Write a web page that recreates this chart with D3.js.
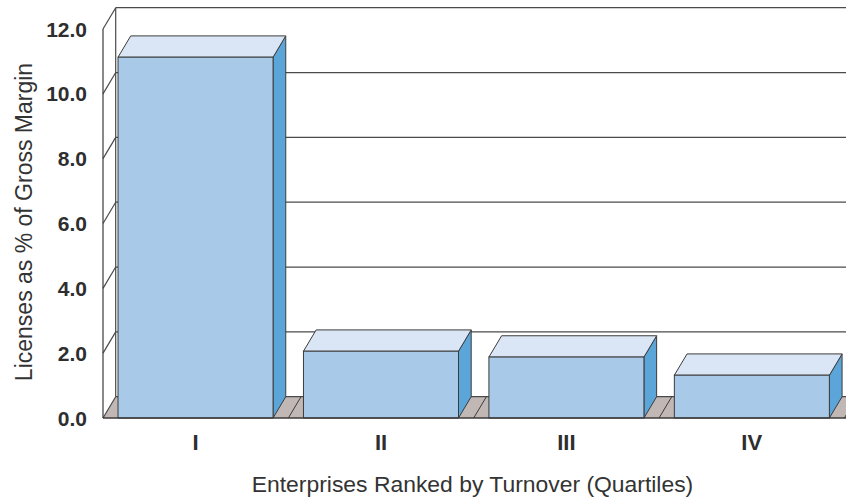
<!DOCTYPE html>
<html><head><meta charset="utf-8">
<script src="https://cdn.jsdelivr.net/npm/d3@7"></script>
<style>html,body{margin:0;padding:0;background:#fff;}svg{display:block;}</style>
</head><body>
<svg id="chart" width="846" height="500"></svg>
<script>
const categories = ["I", "II", "III", "IV"];
const values = [11.13, 2.06, 1.88, 1.32];
const yTicks = [0, 2, 4, 6, 8, 10, 12];
const xTitle = "Enterprises Ranked by Turnover (Quartiles)";
const yTitle = "Licenses as % of Gross Margin";

(function() {
const svg = d3.select("#chart");
const W = 846, H = 500;
const pLeft = 103, pRight = 844.4, pBottom = 418, pTop = 29;
const dx = 12.7, dy = -21.3;
const stroke = "#3c3c3c";

const y = d3.scaleLinear().domain([0, 12]).range([pBottom, pTop]);
const band = d3.scaleBand().domain(categories).range([pLeft, pRight]).padding(0);
const x = d3.scaleBand().domain(categories).range([pLeft, pRight]).paddingInner(0.164).paddingOuter(0.081);

svg.append("defs").append("clipPath").attr("id", "c")
  .append("rect").attr("x", 0).attr("y", 0).attr("width", W).attr("height", H);
const g = svg.append("g").attr("clip-path", "url(#c)");

// floor
const floorPts = [[pLeft, pBottom], [W + 40, pBottom], [W + 40 + dx, pBottom + dy], [pLeft + dx, pBottom + dy]];
g.append("path").attr("d", "M" + floorPts.map(p => p.join(",")).join("L") + "Z").attr("fill", "#c1b7b4").attr("stroke", "none");

// back wall grid lines
g.selectAll("line.grid").data(yTicks).join("line").attr("class", "grid")
  .attr("x1", pLeft + dx).attr("x2", W + 20)
  .attr("y1", d => y(d) + dy).attr("y2", d => y(d) + dy)
  .attr("stroke", "#4a4a4a").attr("stroke-width", 1.2);
// left wall diagonals
g.selectAll("line.diag").data(yTicks).join("line").attr("class", "diag")
  .attr("x1", pLeft).attr("x2", pLeft + dx)
  .attr("y1", d => y(d)).attr("y2", d => y(d) + dy)
  .attr("stroke", "#4a4a4a").attr("stroke-width", 1.2);
// back wall left edge
g.append("line").attr("x1", pLeft + dx).attr("x2", pLeft + dx).attr("y1", y(12) + dy).attr("y2", y(0) + dy)
  .attr("stroke", "#4a4a4a").attr("stroke-width", 1.2);
// floor dividers at category boundaries
const bounds = categories.map(c => band(c) + band.bandwidth());
g.selectAll("line.fdiv").data(bounds).join("line").attr("class", "fdiv")
  .attr("x1", d => d).attr("x2", d => d + dx)
  .attr("y1", pBottom).attr("y2", pBottom + dy)
  .attr("stroke", stroke).attr("stroke-width", 1);

// bars
const poly = pts => "M" + pts.map(p => p.join(",")).join("L") + "Z";
const bars = g.selectAll("g.bar").data(categories.map((c, i) => ({c, v: values[i]}))).join("g").attr("class", "bar");
bars.each(function(d) {
  const b = d3.select(this);
  const x0 = x(d.c), x1 = x(d.c) + x.bandwidth();
  const yt = y(d.v), yb = y(0);
  b.append("path").attr("d", poly([[x1, yt], [x1 + dx, yt + dy], [x1 + dx, yb + dy], [x1, yb]]))
    .attr("fill", "#5ba5d9").attr("stroke", stroke).attr("stroke-width", 1).attr("stroke-linejoin", "round");
  b.append("path").attr("d", poly([[x0, yt], [x0 + dx, yt + dy], [x1 + dx, yt + dy], [x1, yt]]))
    .attr("fill", "#dae6f5").attr("stroke", stroke).attr("stroke-width", 1).attr("stroke-linejoin", "round");
  b.append("rect").attr("x", x0).attr("y", yt).attr("width", x1 - x0).attr("height", yb - yt)
    .attr("fill", "#a9c9e8").attr("stroke", stroke).attr("stroke-width", 1);
});

// front baseline and left front edge
g.append("line").attr("x1", pLeft).attr("x2", W + 20).attr("y1", pBottom).attr("y2", pBottom)
  .attr("stroke", "#3a3a3a").attr("stroke-width", 1.4);
g.append("line").attr("x1", pLeft).attr("x2", pLeft).attr("y1", pTop).attr("y2", pBottom)
  .attr("stroke", "#3a3a3a").attr("stroke-width", 1.2);

// y tick labels
svg.selectAll("text.yt").data(yTicks).join("text").attr("class", "yt")
  .attr("x", 87).attr("y", d => y(d)).attr("dy", "0.36em")
  .attr("text-anchor", "end")
  .attr("font-family", "Liberation Sans, Arial, sans-serif").attr("font-weight", "bold")
  .attr("font-size", 21).attr("fill", "#2e2e2e")
  .text(d => d3.format(".1f")(d));

// x labels
svg.selectAll("text.xt").data(categories).join("text").attr("class", "xt")
  .attr("x", d => band(d) + band.bandwidth() / 2).attr("y", 450)
  .attr("text-anchor", "middle")
  .attr("font-family", "Liberation Sans, Arial, sans-serif").attr("font-weight", "bold")
  .attr("font-size", 22).attr("fill", "#2e2e2e")
  .text(d => d);

// axis titles
svg.append("text").attr("x", 472.5).attr("y", 492).attr("text-anchor", "middle")
  .attr("font-family", "Liberation Sans, Arial, sans-serif").attr("font-size", 22.9).attr("fill", "#333")
  .text(xTitle);
svg.append("text").attr("transform", "translate(32,222) rotate(-90)").attr("text-anchor", "middle")
  .attr("font-family", "Liberation Sans, Arial, sans-serif").attr("font-size", 23).attr("fill", "#333")
  .text(yTitle);
})();
</script>
</body></html>
